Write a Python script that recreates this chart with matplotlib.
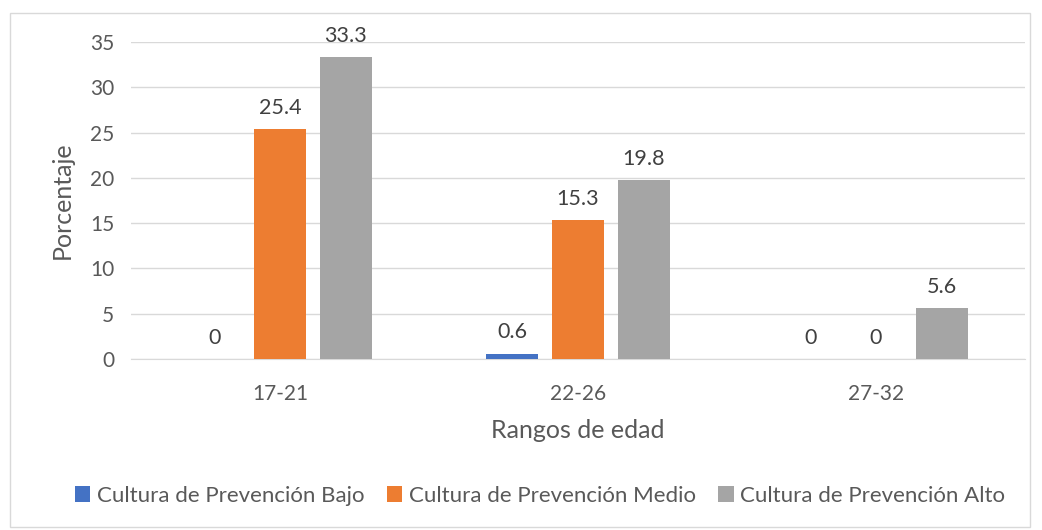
import numpy as np
import matplotlib.pyplot as plt
from matplotlib.patches import Rectangle

rangos = ['17-21', '22-26', '27-32']
bajo = [0, 0.6, 0]
medio = [25.4, 15.3, 0]
alto = [33.3, 19.8, 5.6]
series = ['Cultura de Prevención Bajo', 'Cultura de Prevención Medio', 'Cultura de Prevención Alto']
colores = ['#4472C4', '#ED7D31', '#A5A5A5']

plt.rcParams['font.family'] = ['Lato', 'DejaVu Sans']
texto = '#595959'

fig = plt.figure(figsize=(10.42, 5.3), dpi=100)
fig.patches.append(Rectangle((10 / 1042, 3 / 530), 1020 / 1042, 514 / 530, transform=fig.transFigure,
                             fill=False, edgecolor='#d9d9d9', linewidth=1))
ax = fig.add_axes([131 / 1042, 1 - 359 / 530, 894 / 1042, 317 / 530])

x = np.arange(len(rangos))
ancho = 0.175
paso = 0.221
for i, (vals, nombre, c) in enumerate(zip([bajo, medio, alto], series, colores)):
    barras = ax.bar(x + (i - 1) * paso, vals, ancho, color=c, label=nombre, zorder=3)
    ax.bar_label(barras, labels=[f'{v:g}' for v in vals], padding=8, fontsize=15.5, color='#404040')

ax.set_xlim(-0.5, 2.5)
ax.set_ylim(0, 35)
ax.set_yticks(range(0, 36, 5))
ax.set_xticks(x)
ax.set_xticklabels(rangos)
ax.tick_params(length=0, labelsize=15, labelcolor=texto)
ax.tick_params(axis='x', pad=18)
ax.tick_params(axis='y', pad=12)
ax.grid(axis='y', color='#d9d9d9', linewidth=1, zorder=0)
for lado in ['top', 'right', 'left']:
    ax.spines[lado].set_visible(False)
ax.spines['bottom'].set_color('#d9d9d9')
ax.set_ylabel('Porcentaje', fontsize=18, color=texto, labelpad=12)
ax.set_xlabel('Rangos de edad', fontsize=18, color=texto, labelpad=11)

ax.legend(loc='center', bbox_to_anchor=(540 / 1042, 1 - 496 / 530), bbox_transform=fig.transFigure,
          ncol=3, frameon=False, fontsize=16, labelcolor=texto, handlelength=0.7, handleheight=0.7,
          handletextpad=0.3, columnspacing=1.0)

fig.savefig('out.png', dpi=100)
